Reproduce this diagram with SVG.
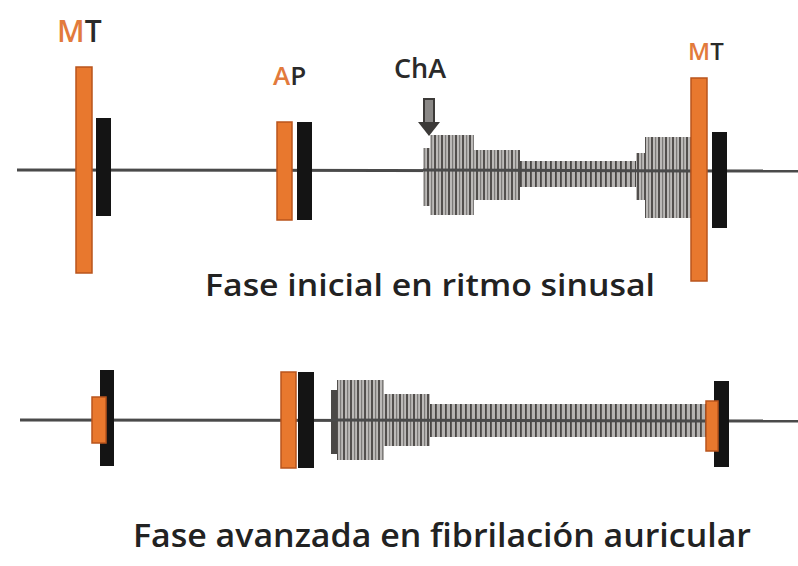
<svg xmlns="http://www.w3.org/2000/svg" width="798" height="566" viewBox="0 0 798 566">
  <defs>
    <!-- vertical hatching used for the murmur envelopes -->
    <pattern id="hatch" patternUnits="userSpaceOnUse" width="7" height="10">
      <rect x="0" y="0" width="7" height="10" fill="#bcbab8"/>
      <rect x="0" y="0" width="2" height="10" fill="#524f4d"/>
      <rect x="4" y="0" width="1.2" height="10" fill="#7d7b79"/>
    </pattern>
    <pattern id="hatchFine" patternUnits="userSpaceOnUse" width="5" height="10">
      <rect x="0" y="0" width="5" height="10" fill="#b5b3b1"/>
      <rect x="0" y="0" width="1.8" height="10" fill="#484644"/>
    </pattern>
  </defs>
  <style>
    .base { stroke: #4a4a4a; stroke-width: 3; fill: none; }
    .orange { fill: #e8782e; stroke: #b9541c; stroke-width: 1.5; }
    .black { fill: #141414; }
    .hatch { fill: url(#hatch); }
    .hatchFine { fill: url(#hatchFine); }
    .lbl { font-family: "Open Sans", "Noto Sans", "Liberation Sans", sans-serif; font-weight: 600; }
    .cap { font-family: "Open Sans", "Noto Sans", "Liberation Sans", sans-serif; font-weight: 600; fill: #222; }
    .or { fill: #e27a3c; }
    .dk { fill: #2a2a2a; }
  </style>

  <rect width="798" height="566" fill="#ffffff"/>

  <!-- baselines -->
  <g id="connectors">
    <line class="base" x1="17" y1="170" x2="798" y2="171"/>
    <line class="base" x1="20" y1="420" x2="798" y2="421"/>
  </g>

  <!-- upper trace: initial phase in sinus rhythm -->
  <g id="mt-top-left">
    <rect class="orange" x="76" y="67" width="16" height="206"/>
    <rect class="black" x="96" y="118" width="15" height="98"/>
    <text class="lbl" x="57" y="42" font-size="30"><tspan class="or">M</tspan><tspan class="dk">T</tspan></text>
  </g>

  <g id="ap-top">
    <rect class="orange" x="277" y="122" width="15" height="98"/>
    <rect class="black" x="297" y="122" width="15" height="98"/>
    <text class="lbl" x="273" y="85" font-size="26"><tspan class="or">A</tspan><tspan class="dk">P</tspan></text>
  </g>

  <g id="cha-top">
    <text class="lbl dk" x="394" y="78" font-size="27">ChA</text>
    <rect x="424" y="99" width="10" height="24" fill="#8a8886" stroke="#3c3a38" stroke-width="2"/>
    <polygon points="418,122 440,122 429,136" fill="#3c3a38"/>
  </g>

  <g id="murmur-top">
    <rect class="hatch" x="423" y="148" width="8" height="58"/>
    <rect class="hatch" x="430" y="135" width="44" height="80"/>
    <rect class="hatch" x="474" y="150" width="46" height="50"/>
    <rect class="hatchFine" x="520" y="161" width="116" height="26"/>
    <rect class="hatch" x="636" y="153" width="10" height="47"/>
    <rect class="hatch" x="645" y="137" width="46" height="81"/>
    <line class="base" x1="423" y1="170" x2="691" y2="171"/>
  </g>

  <g id="mt-top-right">
    <rect class="orange" x="691" y="78" width="16" height="203"/>
    <rect class="black" x="712" y="132" width="15" height="96"/>
    <text class="lbl" x="688" y="60" font-size="24"><tspan class="or">M</tspan><tspan class="dk">T</tspan></text>
  </g>

  <text class="cap" x="205" y="296" font-size="31" textLength="450" lengthAdjust="spacingAndGlyphs">Fase inicial en ritmo sinusal</text>

  <!-- lower trace: advanced phase in atrial fibrillation -->
  <g id="s1-bottom-left">
    <rect class="black" x="100" y="370" width="14" height="96"/>
    <rect class="orange" x="92" y="397" width="14" height="46"/>
  </g>

  <g id="ap-bottom">
    <rect class="orange" x="281" y="372" width="15" height="96"/>
    <rect class="black" x="298" y="372" width="16" height="96"/>
  </g>

  <g id="murmur-bottom">
    <rect x="331" y="390" width="7" height="64" fill="#4a4846"/>
    <rect class="hatch" x="337" y="380" width="47" height="80"/>
    <rect class="hatch" x="384" y="394" width="46" height="52"/>
    <rect class="hatchFine" x="430" y="404" width="277" height="33"/>
    <line class="base" x1="331" y1="420" x2="707" y2="421"/>
  </g>

  <g id="s1-bottom-right">
    <rect class="black" x="714" y="381" width="15" height="86"/>
    <rect class="orange" x="706" y="401" width="12" height="50"/>
  </g>

  <text class="cap" x="133" y="547" font-size="33" textLength="618" lengthAdjust="spacingAndGlyphs">Fase avanzada en fibrilación auricular</text>
</svg>
